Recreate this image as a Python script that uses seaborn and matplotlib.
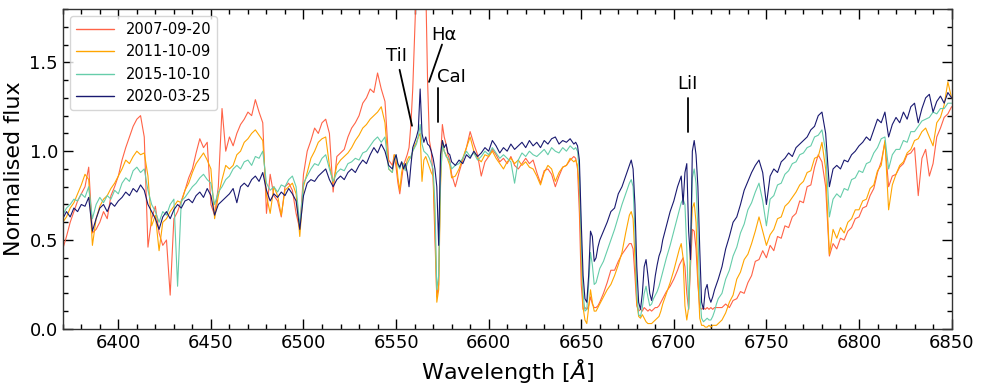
import numpy as np
import pandas as pd
import matplotlib
matplotlib.use("Agg")
import matplotlib.pyplot as plt
import seaborn as sns
from matplotlib.ticker import MultipleLocator

# ---------------- data ----------------
wavelength = np.concatenate([
    np.arange(6370, 6549, 2),   # 90
    np.arange(6549, 6581, 1),   # 32
    np.arange(6582, 6647, 2),   # 33
    np.arange(6647, 6661, 1),   # 14
    np.arange(6662, 6677, 2),   # 8
    np.arange(6677, 6695, 1),   # 18
    np.arange(6696, 6703, 2),   # 4
    np.arange(6703, 6725, 1),   # 22
    np.arange(6726, 6851, 2),   # 63
]).astype(float)

flux_2007 = [
    # 6370-6548 (step 2)
    0.45, 0.52, 0.60, 0.66, 0.72, 0.76, 0.80, 0.91, 0.54, 0.56,
    0.60, 0.66, 0.62, 0.75, 0.80, 0.86, 0.95, 1.02, 1.08, 1.14,
    1.18, 1.20, 1.08, 0.46, 0.62, 0.69, 0.54, 0.47, 0.50, 0.19,
    0.62, 0.66, 0.72, 0.78, 0.85, 0.90, 0.99, 1.07, 1.02, 1.05,
    0.70, 0.64, 0.80, 1.24, 1.00, 1.08, 1.03, 1.10, 1.15, 1.18,
    1.22, 1.20, 1.29, 1.22, 1.16, 0.65, 0.87, 0.75, 0.72, 0.63,
    0.80, 0.82, 0.78, 0.65, 0.56, 0.87, 1.00, 1.06, 1.13, 1.10,
    1.16, 1.18, 1.10, 0.77, 0.97, 0.99, 1.01, 1.08, 1.13, 1.16,
    1.20, 1.27, 1.30, 1.35, 1.33, 1.44, 1.35, 1.28, 0.95, 0.92,
    # 6549-6580 (step 1)
    0.98, 0.91, 0.82, 0.76, 0.84, 0.92, 0.95, 0.98, 1.02, 1.15,
    1.35, 1.65, 1.95, 2.20, 2.30, 2.25, 2.15, 1.95, 1.40, 1.06,
    1.00, 0.85, 0.50, 0.18, 0.25, 0.95, 1.15, 1.08, 1.04, 0.98,
    0.95, 0.87,
    # 6582-6646 (step 2)
    0.80, 0.88, 0.95, 1.02, 1.11, 1.04, 0.98, 0.86, 0.94, 0.97,
    1.01, 0.98, 0.94, 0.96, 0.93, 0.97, 0.92, 0.90, 0.93, 0.96,
    0.93, 0.95, 0.88, 0.82, 0.89, 0.90, 0.87, 0.80, 0.86, 0.91,
    0.92, 0.95, 0.97,
    # 6647-6660 (step 1)
    0.96, 0.90, 0.65, 0.25, 0.11, 0.12, 0.11, 0.13, 0.18, 0.14,
    0.12, 0.12, 0.13, 0.15,
    # 6662-6676 (step 2)
    0.20, 0.26, 0.33, 0.33, 0.38, 0.42, 0.45, 0.48,
    # 6677-6694 (step 1)
    0.48, 0.45, 0.30, 0.13, 0.10, 0.11, 0.10, 0.12, 0.11, 0.10,
    0.11, 0.10, 0.11, 0.12, 0.12, 0.13, 0.15, 0.17,
    # 6696-6702 (step 2)
    0.21, 0.24, 0.28, 0.33,
    # 6703-6724 (step 1)
    0.36, 0.38, 0.40, 0.35, 0.20, 0.11, 0.35, 0.56, 0.55, 0.45,
    0.25, 0.12, 0.11, 0.12, 0.11, 0.12, 0.11, 0.12, 0.11, 0.12,
    0.12, 0.12,
    # 6726-6850 (step 2)
    0.12, 0.14, 0.12, 0.16, 0.17, 0.21, 0.20, 0.26, 0.30, 0.38,
    0.39, 0.44, 0.40, 0.47, 0.44, 0.52, 0.51, 0.58, 0.57, 0.63,
    0.65, 0.72, 0.71, 0.80, 0.81, 0.91, 0.98, 0.94, 0.80, 0.41,
    0.48, 0.45, 0.51, 0.50, 0.55, 0.57, 0.62, 0.63, 0.68, 0.69,
    0.75, 0.79, 0.88, 0.94, 1.05, 0.80, 0.86, 0.87, 0.91, 0.93,
    0.98, 0.99, 1.02, 0.75, 0.96, 1.01, 0.86, 0.93, 1.08, 1.13,
    1.19, 1.21, 1.25,
]

flux_2011 = [
    # 6370-6548
    0.60, 0.63, 0.68, 0.71, 0.76, 0.81, 0.87, 0.84, 0.47, 0.62,
    0.69, 0.73, 0.75, 0.79, 0.82, 0.86, 0.90, 0.95, 0.93, 0.97,
    1.00, 0.98, 0.99, 0.86, 0.58, 0.64, 0.44, 0.60, 0.62, 0.66,
    0.69, 0.72, 0.71, 0.78, 0.82, 0.88, 0.93, 0.96, 0.99, 0.95,
    0.90, 0.62, 0.75, 0.84, 0.92, 0.90, 0.92, 0.98, 1.00, 1.05,
    1.07, 1.10, 1.12, 1.09, 1.06, 0.75, 0.65, 0.80, 0.75, 0.64,
    0.78, 0.80, 0.82, 0.76, 0.52, 0.80, 0.88, 0.96, 1.00, 1.05,
    1.07, 1.08, 0.92, 0.82, 0.92, 0.95, 0.97, 0.99, 1.02, 1.06,
    1.09, 1.13, 1.15, 1.18, 1.20, 1.22, 1.25, 1.16, 0.90, 0.88,
    # 6549-6580
    0.98, 0.96, 0.85, 0.78, 0.88, 0.93, 0.90, 0.95, 0.97, 0.96,
    1.00, 1.03, 1.05, 1.08, 1.10, 0.83, 0.95, 0.97, 0.94, 0.91,
    0.88, 0.86, 0.60, 0.15, 0.22, 0.80, 1.06, 1.00, 0.98, 0.95,
    0.92, 0.85,
    # 6582-6646
    0.86, 0.90, 0.96, 1.02, 1.08, 1.00, 0.96, 0.94, 0.98, 0.97,
    1.00, 0.96, 0.93, 0.90, 0.94, 0.96, 0.93, 0.95, 0.92, 0.94,
    0.91, 0.90, 0.86, 0.81, 0.88, 0.92, 0.90, 0.83, 0.88, 0.91,
    0.92, 0.96, 0.94,
    # 6647-6660
    0.95, 0.92, 0.78, 0.40, 0.12, 0.05, 0.03, 0.12, 0.22, 0.15,
    0.10, 0.10, 0.12, 0.14,
    # 6662-6676
    0.18, 0.22, 0.25, 0.30, 0.36, 0.43, 0.54, 0.64,
    # 6677-6694
    0.66, 0.62, 0.40, 0.15, 0.07, 0.06, 0.08, 0.06, 0.04, 0.03,
    0.03, 0.03, 0.04, 0.05, 0.06, 0.07, 0.10, 0.14,
    # 6696-6702
    0.20, 0.26, 0.33, 0.41,
    # 6703-6724
    0.45, 0.48, 0.40, 0.13, 0.05, 0.12, 0.45, 0.68, 0.71, 0.60,
    0.30, 0.06, 0.02, 0.02, 0.01, 0.01, 0.02, 0.01, 0.02, 0.02,
    0.02, 0.03,
    # 6726-6850
    0.05, 0.09, 0.15, 0.19, 0.28, 0.32, 0.39, 0.42, 0.48, 0.55,
    0.63, 0.55, 0.47, 0.53, 0.56, 0.62, 0.63, 0.69, 0.71, 0.74,
    0.77, 0.81, 0.83, 0.88, 0.89, 0.96, 0.97, 1.05, 0.90, 0.42,
    0.56, 0.51, 0.57, 0.54, 0.60, 0.62, 0.67, 0.67, 0.72, 0.73,
    0.79, 0.81, 0.89, 0.92, 1.06, 0.67, 0.81, 0.87, 0.92, 0.94,
    0.99, 1.01, 1.06, 1.07, 1.11, 1.13, 1.08, 1.03, 1.16, 1.19,
    1.26, 1.39, 1.30,
]

flux_2015 = [
    # 6370-6548
    0.64, 0.68, 0.70, 0.73, 0.72, 0.76, 0.74, 0.80, 0.62, 0.70,
    0.74, 0.71, 0.75, 0.73, 0.78, 0.76, 0.82, 0.85, 0.83, 0.89,
    0.91, 0.88, 0.90, 0.78, 0.70, 0.66, 0.60, 0.66, 0.64, 0.70,
    0.73, 0.24, 0.72, 0.74, 0.77, 0.80, 0.82, 0.85, 0.87, 0.84,
    0.82, 0.70, 0.77, 0.80, 0.84, 0.86, 0.90, 0.92, 0.90, 0.94,
    0.95, 0.92, 0.97, 0.96, 1.00, 0.82, 0.78, 0.80, 0.77, 0.81,
    0.80, 0.84, 0.86, 0.80, 0.58, 0.82, 0.86, 0.90, 0.93, 0.92,
    0.96, 0.98, 0.90, 0.83, 0.88, 0.90, 0.89, 0.93, 0.94, 0.96,
    0.95, 0.99, 1.00, 1.03, 1.06, 1.08, 1.05, 1.08, 0.90, 0.88,
    # 6549-6580
    0.95, 0.98, 0.92, 0.90, 0.94, 0.92, 0.89, 0.93, 0.95, 0.97,
    1.00, 1.02, 1.04, 1.08, 1.15, 1.04, 1.00, 0.99, 0.98, 0.96,
    0.93, 0.90, 0.70, 0.22, 0.30, 0.85, 1.03, 1.00, 0.97, 0.96,
    0.94, 0.90,
    # 6582-6646
    0.92, 0.93, 0.96, 1.00, 0.97, 0.99, 0.95, 0.97, 1.00, 0.98,
    1.02, 0.99, 0.96, 0.98, 0.96, 0.94, 0.82, 0.95, 0.99, 0.97,
    1.00, 0.98, 0.97, 0.99, 1.01, 0.98, 1.02, 1.00, 0.99, 1.02,
    1.00, 1.03, 1.01,
    # 6647-6660
    1.02, 1.00, 0.88, 0.50, 0.20, 0.10, 0.11, 0.25, 0.43, 0.36,
    0.25, 0.26, 0.30, 0.34,
    # 6662-6676
    0.38, 0.44, 0.50, 0.56, 0.63, 0.70, 0.76, 0.82,
    # 6677-6694
    0.84, 0.80, 0.55, 0.20, 0.08, 0.07, 0.12, 0.20, 0.24, 0.18,
    0.13, 0.14, 0.17, 0.19, 0.21, 0.24, 0.28, 0.32,
    # 6696-6702
    0.40, 0.47, 0.55, 0.63,
    # 6703-6724
    0.67, 0.71, 0.73, 0.70, 0.45, 0.11, 0.40, 0.85, 0.90, 0.82,
    0.55, 0.20, 0.06, 0.04, 0.05, 0.06, 0.05, 0.05, 0.07, 0.10,
    0.14, 0.17,
    # 6726-6850
    0.20, 0.28, 0.33, 0.41, 0.46, 0.54, 0.59, 0.67, 0.71, 0.77,
    0.82, 0.72, 0.58, 0.73, 0.75, 0.81, 0.82, 0.87, 0.89, 0.93,
    0.94, 0.98, 0.99, 1.02, 1.03, 1.08, 1.09, 1.12, 1.00, 0.63,
    0.73, 0.76, 0.74, 0.79, 0.78, 0.84, 0.85, 0.89, 0.88, 0.93,
    0.94, 0.99, 1.02, 1.07, 1.08, 0.90, 0.98, 1.01, 1.01, 1.06,
    1.05, 1.11, 1.11, 1.14, 1.17, 1.18, 1.19, 1.22, 1.21, 1.24,
    1.24, 1.27, 1.27,
]

flux_2020 = [
    # 6370-6548
    0.62, 0.66, 0.63, 0.68, 0.66, 0.70, 0.69, 0.74, 0.55, 0.62,
    0.68, 0.70, 0.66, 0.71, 0.69, 0.72, 0.74, 0.77, 0.75, 0.79,
    0.77, 0.81, 0.78, 0.70, 0.66, 0.62, 0.56, 0.63, 0.66, 0.62,
    0.67, 0.70, 0.68, 0.72, 0.73, 0.71, 0.75, 0.77, 0.74, 0.79,
    0.75, 0.64, 0.70, 0.72, 0.74, 0.76, 0.79, 0.71, 0.80, 0.82,
    0.80, 0.84, 0.86, 0.83, 0.88, 0.78, 0.72, 0.76, 0.74, 0.77,
    0.75, 0.79, 0.76, 0.72, 0.56, 0.75, 0.82, 0.84, 0.83, 0.86,
    0.88, 0.90, 0.84, 0.80, 0.84, 0.86, 0.84, 0.88, 0.90, 0.88,
    0.92, 0.95, 0.93, 0.98, 1.02, 0.99, 1.04, 1.00, 0.92, 0.90,
    # 6549-6580
    0.95, 0.98, 0.93, 0.91, 0.94, 0.90, 0.93, 0.88, 0.80, 0.92,
    1.02, 1.05, 1.08, 1.12, 1.35, 1.10, 1.05, 1.08, 1.04, 1.03,
    1.00, 0.96, 0.90, 0.80, 0.47, 0.98, 1.06, 1.02, 1.04, 0.99,
    0.98, 0.94,
    # 6582-6646
    0.92, 0.95, 0.93, 0.98, 0.96, 1.00, 0.97, 0.99, 1.02, 1.00,
    1.06, 1.03, 0.99, 1.02, 1.00, 1.04, 1.01, 1.03, 1.05, 1.02,
    1.06, 1.03, 1.05, 1.02, 1.06, 1.04, 1.07, 1.08, 1.04, 1.06,
    1.05, 1.07, 1.04,
    # 6647-6660
    1.05, 1.03, 0.95, 0.60, 0.30, 0.17, 0.15, 0.30, 0.55, 0.52,
    0.38, 0.40, 0.46, 0.50,
    # 6662-6676
    0.55, 0.60, 0.66, 0.68, 0.76, 0.80, 0.86, 0.92,
    # 6677-6694
    0.95, 0.90, 0.70, 0.35, 0.15, 0.11, 0.20, 0.35, 0.39, 0.30,
    0.20, 0.16, 0.22, 0.30, 0.36, 0.41, 0.44, 0.50,
    # 6696-6702
    0.58, 0.66, 0.72, 0.80,
    # 6703-6724
    0.83, 0.86, 0.70, 0.88, 0.93, 0.55, 0.39, 1.00, 1.06, 0.98,
    0.80, 0.45, 0.15, 0.11, 0.22, 0.25, 0.18, 0.15, 0.18, 0.22,
    0.25, 0.28,
    # 6726-6850
    0.35, 0.45, 0.52, 0.60, 0.63, 0.70, 0.78, 0.83, 0.88, 0.92,
    0.95, 0.88, 0.70, 0.86, 0.90, 0.88, 0.94, 0.96, 0.99, 0.97,
    1.02, 1.04, 1.06, 1.08, 1.12, 1.14, 1.20, 1.22, 1.10, 0.80,
    0.90, 0.92, 0.90, 0.95, 0.94, 0.98, 1.00, 1.03, 1.05, 1.08,
    1.06, 1.12, 1.18, 1.16, 1.22, 1.08, 1.15, 1.19, 1.16, 1.22,
    1.18, 1.25, 1.27, 1.16, 1.24, 1.30, 1.32, 1.22, 1.28, 1.31,
    1.27, 1.33, 1.30,
]

dates = ["2007-09-20", "2011-10-09", "2015-10-10", "2020-03-25"]
colors = ["#ff6347", "#ffa500", "#66cdaa", "#191970"]

line_labels = ["TiI", "H\u03b1", "CaI", "LiI"]

# ---------------- build table ----------------
series = [flux_2007, flux_2011, flux_2015, flux_2020]
df = pd.concat(
    [pd.DataFrame({"wavelength": wavelength, "flux": np.asarray(f, float), "date": d})
     for f, d in zip(series, dates)],
    ignore_index=True,
)

# ---------------- plot ----------------
sns.set_style("ticks")
plt.rcParams["font.family"] = ["DejaVu Sans"]
plt.rcParams["text.color"] = "black"
plt.rcParams["axes.labelcolor"] = "black"
plt.rcParams["xtick.color"] = "black"
plt.rcParams["ytick.color"] = "black"

fig, ax = plt.subplots(figsize=(9.81, 3.92), dpi=100)
fig.subplots_adjust(left=0.064, right=0.970, bottom=0.161, top=0.977)

sns.lineplot(
    data=df, x="wavelength", y="flux", hue="date", hue_order=dates,
    palette=dict(zip(dates, colors)), estimator=None, linewidth=0.8, ax=ax,
)

ax.set_xlim(6370, 6850)
ax.set_ylim(0, 1.8)
ax.xaxis.set_major_locator(MultipleLocator(50))
ax.xaxis.set_minor_locator(MultipleLocator(10))
ax.yaxis.set_major_locator(MultipleLocator(0.5))
ax.yaxis.set_minor_locator(MultipleLocator(0.1))
ax.tick_params(which="both", direction="in", top=True, right=True, width=1)
ax.tick_params(which="major", length=7, labelsize=13)
ax.tick_params(which="minor", length=3.5)
for s in ax.spines.values():
    s.set_linewidth(1.0)
    s.set_color("#333333")

ax.set_xlabel(r"Wavelength [$\AA$]", fontsize=16)
ax.set_ylabel("Normalised flux", fontsize=16)

# legend
old = ax.get_legend()
handles = list(old.legend_handles)
labels = [t.get_text() for t in old.get_texts()]
old.remove()
leg = ax.legend(handles, labels, loc="upper left", fontsize=10.5, handlelength=2.6,
                frameon=True, borderaxespad=0.5)
for h in leg.legend_handles:
    h.set_linewidth(1.0)

# line identifications
kw = dict(color="black", lw=1.3)
ax.plot([6551.9, 6558.6], [1.458, 1.143], **kw)
ax.text(6550.0, 1.535, line_labels[0], fontsize=13, ha="center", va="center")
ax.plot([6574.8, 6567.8], [1.600, 1.390], **kw)
ax.text(6576.0, 1.655, line_labels[1], fontsize=13, ha="center", va="center")
ax.plot([6572.8, 6572.8], [1.357, 1.166], **kw)
ax.text(6580.0, 1.42, line_labels[2], fontsize=13, ha="center", va="center")
ax.plot([6707.6, 6707.6], [1.300, 1.110], **kw)
ax.text(6707.2, 1.38, line_labels[3], fontsize=13, ha="center", va="center")

fig.savefig("out.png", dpi=100)
